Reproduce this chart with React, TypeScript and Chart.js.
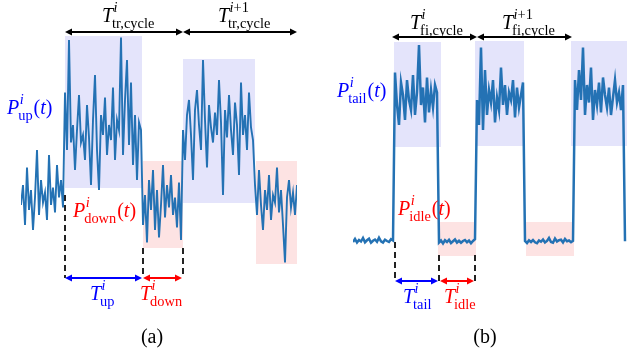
import React, { useEffect, useRef } from "react";
import { Chart, registerables } from "chart.js";
Chart.register(...registerables);

// ---------- Panel (a): transmission power trace (time index step = 1) ----------
const aBaseline = [30, 38, 22, 45, 28, 36, 20, 33, 52, 26, 40, 31, 35, 24, 50, 30, 37, 27, 46, 33, 40, 29];
const aUp1 = [75, 52, 96, 55, 62, 44, 60, 74, 55, 58, 48, 70, 57, 38, 64, 82, 52, 36, 66, 58, 73, 50, 62, 56, 77, 48, 64, 60, 97, 50, 72, 88, 54, 79, 46, 66, 40, 63, 60];
const aDown1 = [22, 34, 15, 40, 28, 44, 20, 36, 17, 30, 46, 25, 38, 29, 42, 26, 33, 21, 39, 16];
const aUp2 = [60, 48, 66, 72, 58, 40, 68, 76, 62, 52, 88, 64, 45, 70, 61, 55, 67, 58, 80, 63, 34, 68, 57, 74, 60, 50, 71, 62, 42, 79, 58, 66, 52, 75, 61, 56];
const aDown2 = [38, 26, 44, 30, 20, 36, 28, 42, 24, 34, 31, 45, 27, 36, 22, 7, 33, 40, 29, 35, 26, 38];

// ---------- Panel (b): fine-tuning power trace ----------
const bIdle0 = [15.2, 16.4, 15.0, 16.0, 15.4, 16.8, 15.1, 15.9, 16.5, 14.9, 15.7, 16.2, 15.3, 16.9, 15.5, 15.0, 16.1, 15.6, 15.2, 16.3, 15.8];
const bTail1 = [83, 70, 62, 79, 74, 64, 80, 72, 68, 82, 66, 75, 94, 70, 77, 63, 81, 67, 76, 69, 78, 75];
const bIdle1 = [15.0, 15.8, 14.6, 15.9, 15.2, 16.1, 14.8, 15.5, 16.2, 15.0, 15.7, 14.9, 15.6, 16.0, 15.1, 15.8, 14.7, 15.6, 16.3];
const bTail2 = [72, 62, 93, 60, 84, 66, 76, 71, 80, 63, 73, 68, 85, 70, 78, 66, 75, 72, 80, 65, 77, 69, 74, 79];
const bIdle2 = [15.6, 14.8, 15.9, 15.2, 16.0, 15.1, 14.7, 15.8, 15.3, 16.2, 15.0, 15.6, 16.8, 15.2, 14.9, 16.6, 15.4, 15.9, 16.1, 15.0, 16.4, 15.5, 15.8, 15.1, 15.7];
const bTail3 = [80, 68, 84, 72, 93, 66, 78, 71, 85, 64, 76, 70, 79, 67, 81, 74, 69, 77, 66, 73, 80, 71, 75, 68, 78];
const bEnd = [15.5];

const powerA = [...aBaseline, ...aUp1, ...aDown1, ...aUp2, ...aDown2];
const powerB = [...bIdle0, ...bTail1, ...bIdle1, ...bTail2, ...bIdle2, ...bTail3, ...bEnd];

const SERIF = '"Liberation Serif", "DejaVu Serif", serif';
const LINE = "#2472b4";
const BLUE_FILL = "#e4e4fb";
const PINK_FILL = "#fde3e3";
const BLUE = "#0000ff";
const RED = "#ff0000";

type Part = [string, boolean];
type MathSpec = { base: string; sup: Part[]; sub: string; tail?: boolean };

function drawParts(ctx: CanvasRenderingContext2D, parts: Part[], x: number, y: number, size: number) {
  let cx = x;
  for (const [t, it] of parts) {
    ctx.font = `${it ? "italic " : ""}${size}px ${SERIF}`;
    ctx.fillText(t, cx, y);
    cx += ctx.measureText(t).width;
  }
  return cx - x;
}

function drawMath(ctx: CanvasRenderingContext2D, spec: MathSpec, x: number, y: number, color: string, size = 20) {
  ctx.save();
  ctx.fillStyle = color;
  ctx.textBaseline = "alphabetic";
  ctx.textAlign = "left";
  ctx.font = `italic ${size}px ${SERIF}`;
  ctx.fillText(spec.base, x, y);
  const w = ctx.measureText(spec.base).width;
  const supW = drawParts(ctx, spec.sup, x + w + 0.5, y - size * 0.5, size * 0.72);
  ctx.font = `${size * 0.72}px ${SERIF}`;
  ctx.fillText(spec.sub, x + w - 1, y + size * 0.28);
  const subW = ctx.measureText(spec.sub).width - 1;
  const cx = x + w + Math.max(supW, subW) + 1;
  if (spec.tail) {
    drawParts(ctx, [["(", false], ["t", true], [")", false]], cx, y, size);
  }
  ctx.restore();
}

function hArrow(ctx: CanvasRenderingContext2D, x1: number, x2: number, y: number, color: string) {
  const L = 7, H = 3.5;
  ctx.save();
  ctx.strokeStyle = color;
  ctx.fillStyle = color;
  ctx.lineWidth = 2;
  ctx.beginPath();
  ctx.moveTo(x1 + 3, y);
  ctx.lineTo(x2 - 3, y);
  ctx.stroke();
  ctx.beginPath();
  ctx.moveTo(x1, y);
  ctx.lineTo(x1 + L, y - H);
  ctx.lineTo(x1 + L, y + H);
  ctx.closePath();
  ctx.fill();
  ctx.beginPath();
  ctx.moveTo(x2, y);
  ctx.lineTo(x2 - L, y - H);
  ctx.lineTo(x2 - L, y + H);
  ctx.closePath();
  ctx.fill();
  ctx.restore();
}

function vDash(ctx: CanvasRenderingContext2D, x: number, y1: number, y2: number) {
  ctx.save();
  ctx.strokeStyle = "#222";
  ctx.lineWidth = 2;
  ctx.setLineDash([6, 4]);
  ctx.beginPath();
  ctx.moveTo(x, y1);
  ctx.lineTo(x, y2);
  ctx.stroke();
  ctx.restore();
}

type Box = [number, number, number, number];
type Overlay = {
  blueBoxes: Box[];
  pinkBoxes: Box[];
  topArrows: [number, number][];
  topY: number;
  dashes: [number, number, number][];
  bottomY: number;
  blueArrow: [number, number];
  redArrow: [number, number];
  labels: { spec: MathSpec; t: number; p: number; color: string }[];
  caption: { text: string; t: number; p: number };
};

function makePlugin(ov: Overlay) {
  return {
    id: "overlay",
    beforeDatasetsDraw(chart: any) {
      const ctx = chart.ctx as CanvasRenderingContext2D;
      const X = (v: number) => chart.scales.x.getPixelForValue(v);
      const Y = (v: number) => chart.scales.y.getPixelForValue(v);
      ctx.save();
      ctx.fillStyle = BLUE_FILL;
      for (const [t1, t2, p1, p2] of ov.blueBoxes) ctx.fillRect(X(t1), Y(p1), X(t2) - X(t1), Y(p2) - Y(p1));
      ctx.fillStyle = PINK_FILL;
      for (const [t1, t2, p1, p2] of ov.pinkBoxes) ctx.fillRect(X(t1), Y(p1), X(t2) - X(t1), Y(p2) - Y(p1));
      ctx.restore();
    },
    afterDraw(chart: any) {
      const ctx = chart.ctx as CanvasRenderingContext2D;
      const X = (v: number) => chart.scales.x.getPixelForValue(v);
      const Y = (v: number) => chart.scales.y.getPixelForValue(v);
      for (const [t1, t2] of ov.topArrows) hArrow(ctx, X(t1), X(t2), Y(ov.topY), "#000");
      for (const [t, p1, p2] of ov.dashes) vDash(ctx, X(t), Y(p1), Y(p2));
      hArrow(ctx, X(ov.blueArrow[0]), X(ov.blueArrow[1]), Y(ov.bottomY), BLUE);
      hArrow(ctx, X(ov.redArrow[0]), X(ov.redArrow[1]), Y(ov.bottomY), RED);
      for (const l of ov.labels) drawMath(ctx, l.spec, X(l.t), Y(l.p), l.color);
      ctx.save();
      ctx.fillStyle = "#000";
      ctx.font = `20px ${SERIF}`;
      ctx.textAlign = "center";
      ctx.fillText(ov.caption.text, X(ov.caption.t), Y(ov.caption.p));
      ctx.restore();
    },
  };
}

const overlayA: Overlay = {
  blueBoxes: [[22, 60.5, 97.6, 36.8], [81, 117, 88.4, 30.8]],
  pinkBoxes: [[61, 81, 47.6, 12.8], [117.5, 138, 47.6, 6.4]],
  topArrows: [[22, 81], [81, 138]],
  topY: 99.2,
  dashes: [[22, 34, 0.8], [61, 12.8, 0.8], [81, 12.8, 0.8]],
  bottomY: 0.8,
  blueArrow: [22, 60.5],
  redArrow: [61, 80.5],
  labels: [
    { spec: { base: "T", sup: [["i", true]], sub: "tr,cycle" }, t: 40.5, p: 103.2, color: "#000" },
    { spec: { base: "T", sup: [["i", true], ["+1", false]], sub: "tr,cycle" }, t: 98.5, p: 103.2, color: "#000" },
    { spec: { base: "P", sup: [["i", true]], sub: "up", tail: true }, t: -7, p: 66.4, color: BLUE },
    { spec: { base: "P", sup: [["i", true]], sub: "down", tail: true }, t: 26, p: 25.2, color: RED },
    { spec: { base: "T", sup: [["i", true]], sub: "up" }, t: 34.5, p: -8, color: BLUE },
    { spec: { base: "T", sup: [["i", true]], sub: "down" }, t: 59.5, p: -8, color: RED },
  ],
  caption: { text: "(a)", t: 65.5, p: -25.2 },
};

const overlayB: Overlay = {
  blueBoxes: [[20.5, 44, 95.2, 53.2], [61, 85.5, 95.6, 53.6], [109, 137, 95.6, 53.6]],
  pinkBoxes: [[42.5, 61.5, 23.2, 9.6], [86.5, 110.5, 23.2, 9.6]],
  topArrows: [[19.5, 62], [62, 109.5]],
  topY: 97.2,
  dashes: [[21, 15.2, -0.4], [43, 10, -0.4], [61, 10, -0.4]],
  bottomY: -0.4,
  blueArrow: [21, 42.5],
  redArrow: [43.5, 60.5],
  labels: [
    { spec: { base: "T", sup: [["i", true]], sub: "fi,cycle" }, t: 28.5, p: 100.4, color: "#000" },
    { spec: { base: "T", sup: [["i", true], ["+1", false]], sub: "fi,cycle" }, t: 74.5, p: 100.4, color: "#000" },
    { spec: { base: "P", sup: [["i", true]], sub: "tail", tail: true }, t: -8, p: 73.2, color: BLUE },
    { spec: { base: "P", sup: [["i", true]], sub: "idle", tail: true }, t: 22.5, p: 26, color: RED },
    { spec: { base: "T", sup: [["i", true]], sub: "tail" }, t: 25, p: -9.2, color: BLUE },
    { spec: { base: "T", sup: [["i", true]], sub: "idle" }, t: 45.5, p: -9.2, color: RED },
  ],
  caption: { text: "(b)", t: 66, p: -25.2 },
};

function Panel(props: { values: number[]; maxT: number; width: number; padLeft: number; padRight: number; lineWidth: number; overlay: Overlay }) {
  const ref = useRef<HTMLCanvasElement | null>(null);
  useEffect(() => {
    if (!ref.current) return;
    const pts = props.values.map((v, i) => ({ x: i, y: v }));
    const chart = new Chart(ref.current, {
      type: "line",
      data: {
        datasets: [
          {
            data: pts,
            borderColor: LINE,
            borderWidth: props.lineWidth,
            pointRadius: 0,
            tension: 0,
            fill: false,
          },
        ],
      },
      options: {
        responsive: false,
        animation: false,
        devicePixelRatio: 1,
        layout: { padding: { left: props.padLeft, right: props.padRight, top: 30, bottom: 76 } },
        scales: {
          x: { type: "linear", min: 0, max: props.maxT, display: false },
          y: { min: 0, max: 100, display: false },
        },
        plugins: { legend: { display: false }, tooltip: { enabled: false } },
      },
      plugins: [makePlugin(props.overlay)],
    } as any);
    return () => chart.destroy();
  }, []);
  return <canvas ref={ref} width={props.width} height={356} style={{ display: "block" }} />;
}

export default function App() {
  useEffect(() => {
    document.body.style.margin = "0";
    document.body.style.background = "#fff";
  }, []);
  return (
    <div style={{ width: 627, height: 356, display: "flex", background: "#fff" }}>
      <Panel values={powerA} maxT={138} width={313} padLeft={21} padRight={16} lineWidth={1.9} overlay={overlayA} />
      <Panel values={powerB} maxT={137} width={314} padLeft={40} padRight={0} lineWidth={2.5} overlay={overlayB} />
    </div>
  );
}
